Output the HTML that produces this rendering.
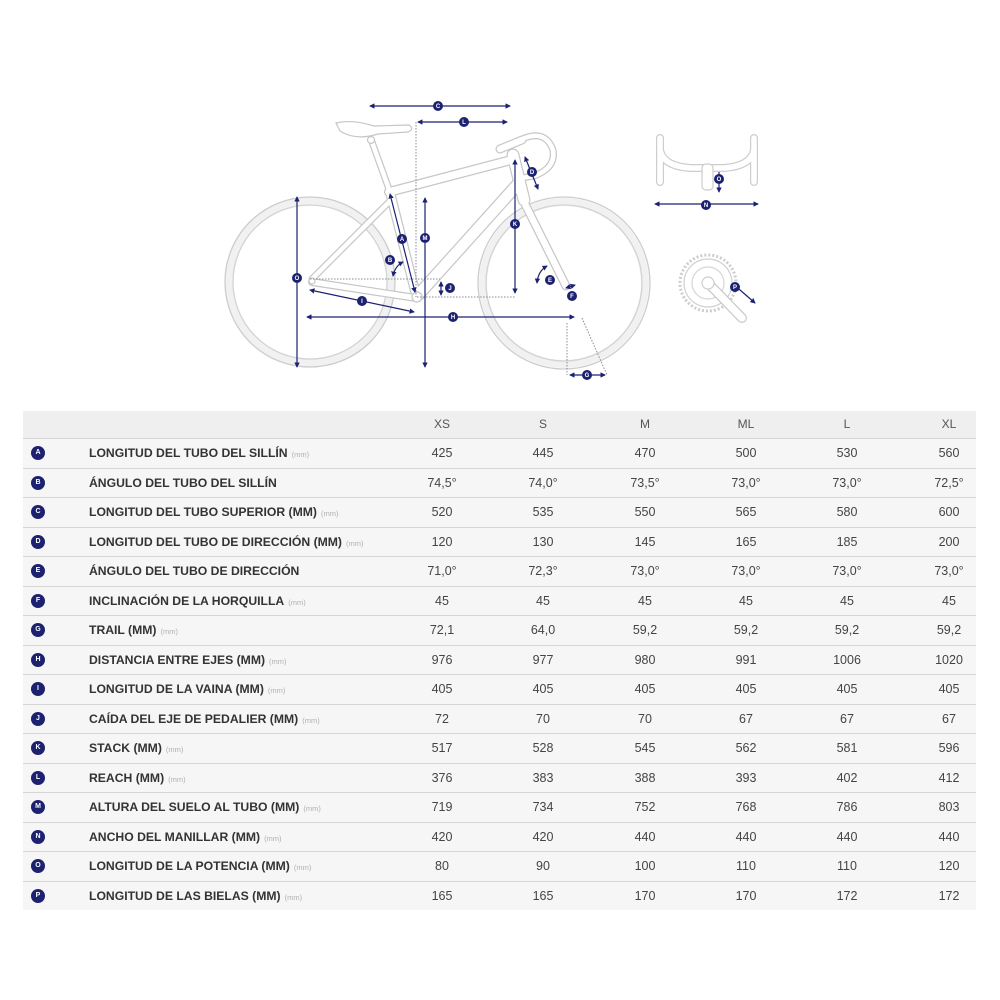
<!DOCTYPE html>
<html><head><meta charset="utf-8">
<style>
html,body{margin:0;padding:0;background:#fff;}
body{width:1000px;height:1000px;position:relative;overflow:hidden;font-family:"Liberation Sans",Arial,sans-serif;}
svg{position:absolute;left:0;top:0;}
.hd{position:absolute;left:23px;top:411px;width:953px;height:27px;background:#efefef;}
.hd span{position:absolute;top:0;width:80px;text-align:center;line-height:27px;font-size:12px;color:#555;}
.r{position:absolute;left:23px;width:953px;height:29.5px;background:#f6f6f6;border-top:1.5px solid #d6d6d6;box-sizing:border-box;}
.c{position:absolute;left:8px;top:7px;width:14px;height:14px;border-radius:50%;background:#1c2270;color:#fff;font-size:7px;font-weight:bold;text-align:center;line-height:14px;}
.l{position:absolute;left:66px;top:0;line-height:28px;font-size:12.2px;font-weight:bold;color:#333;white-space:nowrap;}
.l small{font-size:7.5px;font-weight:normal;color:#b0b0b0;margin-left:4px;}
.r span,.hd span{position:absolute;top:0;width:80px;text-align:center;}
.r span{line-height:28px;font-size:12.5px;color:#444;}
.r span:nth-of-type(1),.hd span:nth-of-type(1){left:379px}
.r span:nth-of-type(2),.hd span:nth-of-type(2){left:480px}
.r span:nth-of-type(3),.hd span:nth-of-type(3){left:582px}
.r span:nth-of-type(4),.hd span:nth-of-type(4){left:683px}
.r span:nth-of-type(5),.hd span:nth-of-type(5){left:784px}
.r span:nth-of-type(6),.hd span:nth-of-type(6){left:886px}
</style></head><body>
<svg width="1000" height="405" viewBox="0 0 1000 405">
<defs>
<marker id="a" viewBox="0 0 6 6" refX="5" refY="3" markerWidth="4.5" markerHeight="4.5" orient="auto-start-reverse"><path d="M0,0 L6,3 L0,6 z" fill="#1c2270"/></marker>
</defs>
<!-- wheels -->
<g fill="none">
<circle cx="310" cy="282" r="81" stroke="#f1f1f1" stroke-width="8"/>
<circle cx="310" cy="282" r="85" stroke="#cdcdcd" stroke-width="1.3"/>
<circle cx="310" cy="282" r="77" stroke="#d3d3d3" stroke-width="1.3"/>
<circle cx="564" cy="283" r="81" stroke="#f1f1f1" stroke-width="8"/>
<circle cx="564" cy="283" r="86" stroke="#cdcdcd" stroke-width="1.3"/>
<circle cx="564" cy="283" r="78" stroke="#d3d3d3" stroke-width="1.3"/>
</g>
<!-- frame outer strokes -->
<g fill="none" stroke="#c6c6c6" stroke-linecap="round" stroke-linejoin="round">
<path d="M372,142 L390,192" stroke-width="7"/>
<path d="M389,192 L511,160" stroke-width="10"/>
<path d="M517,185 L419,294" stroke-width="13"/>
<path d="M390,192 L416,295" stroke-width="10"/>
<path d="M391,200 L312,279" stroke-width="7"/>
<path d="M312,282 L416,298" stroke-width="8"/>
<path d="M513,155 L524,200" stroke-width="13"/>
<path d="M522,198 L566,286" stroke-width="9"/>
<path d="M500,149 L522,140" stroke-width="9"/>
<path d="M520,140 Q545,128 553,150 Q556,168 534,176 L521,178" stroke-width="7"/>
</g>
<g fill="none" stroke="#fff" stroke-linecap="round" stroke-linejoin="round">
<path d="M372,142 L390,192" stroke-width="4.6"/>
<path d="M389,192 L511,160" stroke-width="7.6"/>
<path d="M517,185 L419,294" stroke-width="10.6"/>
<path d="M390,192 L416,295" stroke-width="7.6"/>
<path d="M391,200 L312,279" stroke-width="4.6"/>
<path d="M312,282 L416,298" stroke-width="5.6"/>
<path d="M513,155 L524,200" stroke-width="10.6"/>
<path d="M522,198 L566,286" stroke-width="6.6"/>
<path d="M500,149 L522,140" stroke-width="6.6"/>
<path d="M520,140 Q545,128 553,150 Q556,168 534,176 L521,178" stroke-width="4.6"/>
</g>
<path d="M336,123 Q352,119 374,126 L409,125 Q415,129 408,132 L378,134 Q356,141 340,131 Z" fill="#fff" stroke="#c6c6c6" stroke-width="1.2"/>
<circle cx="371" cy="140" r="3.5" fill="#fff" stroke="#c6c6c6" stroke-width="1.2"/>
<circle cx="417" cy="297" r="5" fill="#fff" stroke="#c6c6c6" stroke-width="1.2"/>
<circle cx="312" cy="281" r="3" fill="#fff" stroke="#c6c6c6" stroke-width="1.2"/>
<!-- dotted helper lines -->
<g fill="none" stroke="#8a8a9a" stroke-width="1" stroke-dasharray="1.5,1.5">
<path d="M416,122 L416,297"/>
<path d="M310,279 L440,279"/>
<path d="M417,297 L515,297"/>
<path d="M567,323 L567,375"/>
<path d="M582,318 L607,375"/>
</g>
<!-- dimension lines -->
<g fill="none" stroke="#1c2270" stroke-width="1.2" marker-start="url(#a)" marker-end="url(#a)">
<path d="M370,106 L510,106"/>
<path d="M418,122 L507,122"/>
<path d="M390,194 L415,292"/>
<path d="M425,198 L425,367"/>
<path d="M297,197 L297,367"/>
<path d="M310,290 L414,312"/>
<path d="M307,317 L574,317"/>
<path d="M441,282 L441,295"/>
<path d="M515,160 L515,293"/>
<path d="M525,157 L538,189"/>
<path d="M570,375 L605,375"/>
<path d="M393,276 Q395,266 403,262"/>
<path d="M537,283 Q538,271 547,266"/>
<path d="M566,288 L575,285"/>
<path d="M719,165 L719,192"/>
<path d="M655,204 L758,204"/>
<path d="M717,270 L755,303"/>
</g>
<!-- handlebar front view -->
<g fill="none" stroke="#cdcdcd" stroke-linecap="round" stroke-linejoin="round">
<path d="M660,182 L660,138 M754,138 L754,182 M660,150 Q663,166 690,168 L724,168 Q751,166 754,150" stroke-width="8"/>
</g>
<g fill="none" stroke="#fff" stroke-linecap="round" stroke-linejoin="round">
<path d="M660,182 L660,138 M754,138 L754,182 M660,150 Q663,166 690,168 L724,168 Q751,166 754,150" stroke-width="5.6"/>
</g>
<rect x="702" y="164" width="11" height="26" rx="4" fill="#fff" stroke="#cdcdcd" stroke-width="1.2"/>
<!-- crankset -->
<circle cx="708" cy="283" r="28" fill="#fff" stroke="#cdcdcd" stroke-width="3" stroke-dasharray="2,2"/>
<circle cx="708" cy="283" r="24" fill="none" stroke="#d0d0d0" stroke-width="1.2"/>
<circle cx="708" cy="283" r="16" fill="none" stroke="#d6d6d6" stroke-width="1.2"/>
<path d="M708,283 L742,318" stroke="#c9c9c9" stroke-width="10" stroke-linecap="round"/>
<path d="M708,283 L742,318" stroke="#fff" stroke-width="7.6" stroke-linecap="round"/>
<circle cx="708" cy="283" r="6" fill="#fff" stroke="#cdcdcd" stroke-width="1.2"/>
<!-- label bubbles -->
<g font-family="Liberation Sans, Arial, sans-serif" font-size="6" font-weight="bold" fill="#fff" text-anchor="middle">
<g fill="#1c2270">
<circle cx="438" cy="106" r="5"/><circle cx="464" cy="122" r="5"/><circle cx="402" cy="239" r="5"/>
<circle cx="390" cy="260" r="5"/><circle cx="425" cy="238" r="5"/><circle cx="297" cy="278" r="5"/>
<circle cx="362" cy="301" r="5"/><circle cx="453" cy="317" r="5"/><circle cx="450" cy="288" r="5"/>
<circle cx="515" cy="224" r="5"/><circle cx="532" cy="172" r="5"/><circle cx="550" cy="280" r="5"/>
<circle cx="572" cy="296" r="5"/><circle cx="587" cy="375" r="5"/><circle cx="719" cy="179" r="5"/>
<circle cx="706" cy="205" r="5"/><circle cx="735" cy="287" r="5"/>
</g>
<text x="438" y="108">C</text><text x="464" y="124">L</text><text x="402" y="241">A</text>
<text x="390" y="262">B</text><text x="425" y="240">M</text><text x="297" y="280">O</text>
<text x="362" y="303">I</text><text x="453" y="319">H</text><text x="450" y="290">J</text>
<text x="515" y="226">K</text><text x="532" y="174">D</text><text x="550" y="282">E</text>
<text x="572" y="298">F</text><text x="587" y="377">G</text><text x="719" y="181">O</text>
<text x="706" y="207">N</text><text x="735" y="289">P</text>
</g>
</svg>

<div class="hd"><span>XS</span><span>S</span><span>M</span><span>ML</span><span>L</span><span>XL</span></div>

<div class="r" style="top:438px"><div class="c">A</div><div class="l">LONGITUD DEL TUBO DEL SILLÍN<small>(mm)</small></div><span>425</span><span>445</span><span>470</span><span>500</span><span>530</span><span>560</span></div>
<div class="r" style="top:467.5px"><div class="c">B</div><div class="l">ÁNGULO DEL TUBO DEL SILLÍN</div><span>74,5°</span><span>74,0°</span><span>73,5°</span><span>73,0°</span><span>73,0°</span><span>72,5°</span></div>
<div class="r" style="top:497px"><div class="c">C</div><div class="l">LONGITUD DEL TUBO SUPERIOR (MM)<small>(mm)</small></div><span>520</span><span>535</span><span>550</span><span>565</span><span>580</span><span>600</span></div>
<div class="r" style="top:526.5px"><div class="c">D</div><div class="l">LONGITUD DEL TUBO DE DIRECCIÓN (MM)<small>(mm)</small></div><span>120</span><span>130</span><span>145</span><span>165</span><span>185</span><span>200</span></div>
<div class="r" style="top:556px"><div class="c">E</div><div class="l">ÁNGULO DEL TUBO DE DIRECCIÓN</div><span>71,0°</span><span>72,3°</span><span>73,0°</span><span>73,0°</span><span>73,0°</span><span>73,0°</span></div>
<div class="r" style="top:585.5px"><div class="c">F</div><div class="l">INCLINACIÓN DE LA HORQUILLA<small>(mm)</small></div><span>45</span><span>45</span><span>45</span><span>45</span><span>45</span><span>45</span></div>
<div class="r" style="top:615px"><div class="c">G</div><div class="l">TRAIL (MM)<small>(mm)</small></div><span>72,1</span><span>64,0</span><span>59,2</span><span>59,2</span><span>59,2</span><span>59,2</span></div>
<div class="r" style="top:644.5px"><div class="c">H</div><div class="l">DISTANCIA ENTRE EJES (MM)<small>(mm)</small></div><span>976</span><span>977</span><span>980</span><span>991</span><span>1006</span><span>1020</span></div>
<div class="r" style="top:674px"><div class="c">I</div><div class="l">LONGITUD DE LA VAINA (MM)<small>(mm)</small></div><span>405</span><span>405</span><span>405</span><span>405</span><span>405</span><span>405</span></div>
<div class="r" style="top:703.5px"><div class="c">J</div><div class="l">CAÍDA DEL EJE DE PEDALIER (MM)<small>(mm)</small></div><span>72</span><span>70</span><span>70</span><span>67</span><span>67</span><span>67</span></div>
<div class="r" style="top:733px"><div class="c">K</div><div class="l">STACK (MM)<small>(mm)</small></div><span>517</span><span>528</span><span>545</span><span>562</span><span>581</span><span>596</span></div>
<div class="r" style="top:762.5px"><div class="c">L</div><div class="l">REACH (MM)<small>(mm)</small></div><span>376</span><span>383</span><span>388</span><span>393</span><span>402</span><span>412</span></div>
<div class="r" style="top:792px"><div class="c">M</div><div class="l">ALTURA DEL SUELO AL TUBO (MM)<small>(mm)</small></div><span>719</span><span>734</span><span>752</span><span>768</span><span>786</span><span>803</span></div>
<div class="r" style="top:821.5px"><div class="c">N</div><div class="l">ANCHO DEL MANILLAR (MM)<small>(mm)</small></div><span>420</span><span>420</span><span>440</span><span>440</span><span>440</span><span>440</span></div>
<div class="r" style="top:851px"><div class="c">O</div><div class="l">LONGITUD DE LA POTENCIA (MM)<small>(mm)</small></div><span>80</span><span>90</span><span>100</span><span>110</span><span>110</span><span>120</span></div>
<div class="r" style="top:880.5px"><div class="c">P</div><div class="l">LONGITUD DE LAS BIELAS (MM)<small>(mm)</small></div><span>165</span><span>165</span><span>170</span><span>170</span><span>172</span><span>172</span></div>
</body></html>
